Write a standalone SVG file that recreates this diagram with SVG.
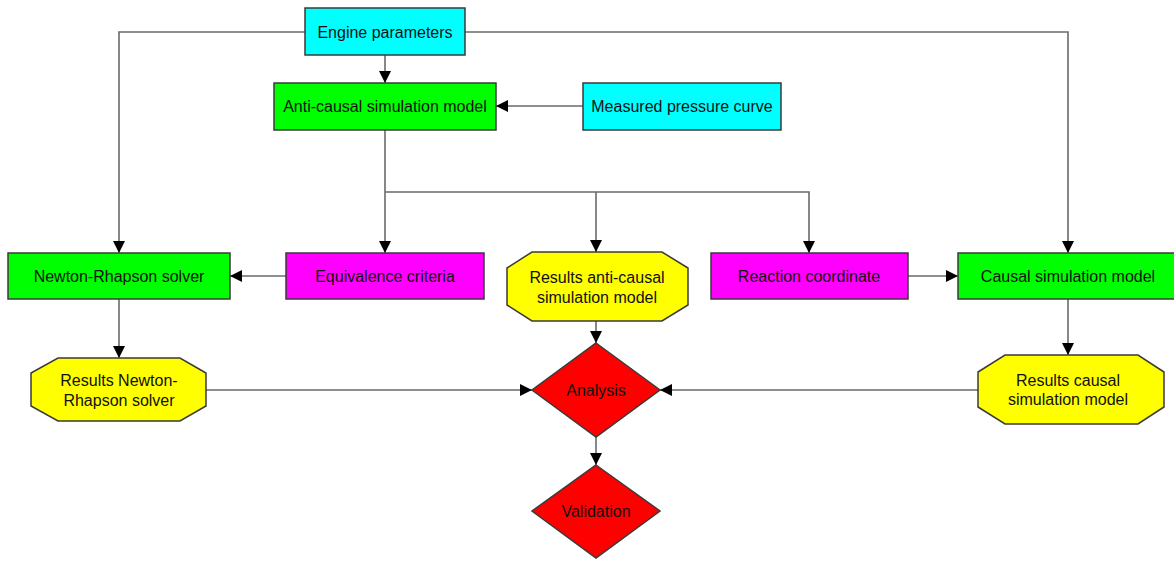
<svg xmlns="http://www.w3.org/2000/svg" width="1174" height="561" viewBox="0 0 1174 561">
<style>
.n{stroke:#3a3a3a;stroke-width:1.5}
.cy{fill:#00ffff}.gr{fill:#00ff00}.mg{fill:#ff00ff}.ye{fill:#ffff00}.rd{fill:#ff0000}
.t{font-family:"Liberation Sans",Arial,sans-serif;font-size:16px;fill:#111;text-anchor:middle}
.c{fill:none;stroke:#6a6a6a;stroke-width:1.6}
</style>
<defs>
<marker id="a" markerUnits="userSpaceOnUse" markerWidth="12" markerHeight="12" viewBox="0 0 12 12" refX="12" refY="6" orient="auto">
<path d="M0,0 L12,6 L0,12 Z" fill="#000"/>
</marker>
</defs>
<g id="connectors">
<path class="c" d="M385,55 V83" marker-end="url(#a)"/>
<path class="c" d="M583,106 H496" marker-end="url(#a)"/>
<path class="c" d="M305,32 H119 V253" marker-end="url(#a)"/>
<path class="c" d="M465,32 H1068 V253" marker-end="url(#a)"/>
<path class="c" d="M385,130 V192 V253" marker-end="url(#a)"/>
<path class="c" d="M385,192 H809 V253" marker-end="url(#a)"/>
<path class="c" d="M596,192 V252" marker-end="url(#a)"/>
<path class="c" d="M286,276 H230" marker-end="url(#a)"/>
<path class="c" d="M908,276 H958" marker-end="url(#a)"/>
<path class="c" d="M119,299 V358" marker-end="url(#a)"/>
<path class="c" d="M1068,299 V355" marker-end="url(#a)"/>
<path class="c" d="M596,321 V343" marker-end="url(#a)"/>
<path class="c" d="M206,390 H532" marker-end="url(#a)"/>
<path class="c" d="M978,390 H660" marker-end="url(#a)"/>
<path class="c" d="M596,437 V465" marker-end="url(#a)"/>
</g>
<g id="engine">
<rect class="n cy" x="305" y="8" width="160" height="47"/>
<text class="t" x="385" y="38">Engine parameters</text>
</g>
<g id="anticausal">
<rect class="n gr" x="274" y="83" width="222" height="47"/>
<text class="t" x="385" y="112">Anti-causal simulation model</text>
</g>
<g id="measured">
<rect class="n cy" x="583" y="83" width="198" height="47"/>
<text class="t" x="682" y="112">Measured pressure curve</text>
</g>
<g id="newton">
<rect class="n gr" x="8" y="253" width="222" height="46"/>
<text class="t" x="119" y="282">Newton-Rhapson solver</text>
</g>
<g id="equivalence">
<rect class="n mg" x="286" y="253" width="198" height="46"/>
<text class="t" x="385" y="282">Equivalence criteria</text>
</g>
<g id="resultsanti">
<polygon class="n ye" points="532,252 662,252 688,268 688,305 662,321 532,321 507,305 507,268"/>
<text class="t" x="597" y="283">Results anti-causal</text>
<text class="t" x="597" y="303">simulation model</text>
</g>
<g id="reaction">
<rect class="n mg" x="711" y="253" width="197" height="46"/>
<text class="t" x="809" y="282">Reaction coordinate</text>
</g>
<g id="causal">
<rect class="n gr" x="958" y="253" width="220" height="46"/>
<text class="t" x="1068" y="282">Causal simulation model</text>
</g>
<g id="resultsnewton">
<polygon class="n ye" points="58,358 180,358 206,373 206,406 180,421 58,421 31,406 31,373"/>
<text class="t" x="119" y="386">Results Newton-</text>
<text class="t" x="119" y="406">Rhapson solver</text>
</g>
<g id="resultscausal">
<polygon class="n ye" points="1005,355 1138,355 1164,372 1164,407 1138,424 1005,424 978,407 978,372"/>
<text class="t" x="1068" y="386">Results causal</text>
<text class="t" x="1068" y="405">simulation model</text>
</g>
<g id="analysis">
<polygon class="n rd" points="596,343 660,390 596,437 532,390"/>
<text class="t" x="596" y="396">Analysis</text>
</g>
<g id="validation">
<polygon class="n rd" points="596,465 660,511 596,558 532,511"/>
<text class="t" x="596" y="517">Validation</text>
</g>
</svg>
